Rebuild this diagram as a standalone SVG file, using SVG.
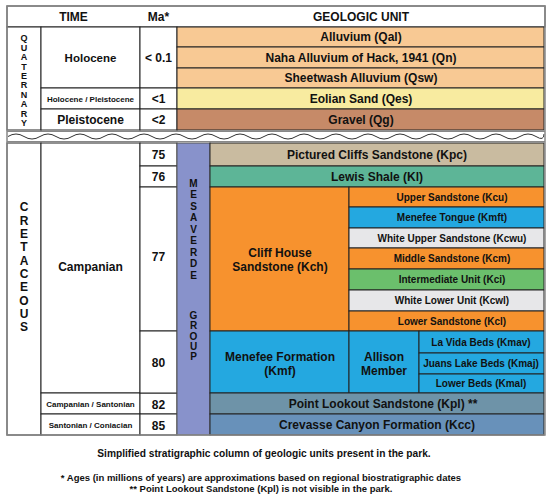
<svg xmlns="http://www.w3.org/2000/svg" width="550" height="497" viewBox="0 0 550 497">
<style>
.t{font-family:"Liberation Sans",Arial,sans-serif;font-weight:bold;fill:#111;text-anchor:middle;font-size:12px}
.s{font-size:10px}
.xs{font-size:8px}
.v{font-size:9px}
.vc{font-size:12px}
.vm{font-size:10px}
.c{stroke:#222;stroke-width:1}
.ln{stroke:#333;stroke-width:1;fill:none}
.g{stroke:#888;stroke-width:1;fill:none}
</style>
<rect width="550" height="497" fill="#fff"/>

<g id="header">
<rect x="7" y="6" width="538" height="21" fill="#fff" class="c"/>
<text class="t" x="73.5" y="21">TIME</text>
<text class="t" x="158.5" y="21">Ma*</text>
<text class="t" x="361" y="21">GEOLOGIC UNIT</text>
</g>

<g id="quaternary">
<rect x="7" y="27" width="34" height="103" fill="#fff" class="c"/>
<text class="t v" x="24"><tspan x="24" y="41.2">Q</tspan><tspan x="24" y="50.6">U</tspan><tspan x="24" y="60.1">A</tspan><tspan x="24" y="69.5">T</tspan><tspan x="24" y="79">E</tspan><tspan x="24" y="88.4">R</tspan><tspan x="24" y="97.9">N</tspan><tspan x="24" y="107.3">A</tspan><tspan x="24" y="116.8">R</tspan><tspan x="24" y="126.2">Y</tspan></text>
</g>

<g id="holocene">
<rect x="41" y="27" width="99" height="61" fill="#fff" class="c"/>
<text class="t" style="font-size:11.5px" x="90.5" y="62">Holocene</text>
<rect x="140" y="27" width="37" height="61" fill="#fff" class="c"/>
<text class="t" x="158.5" y="62">&lt; 0.1</text>
</g>
<g id="holo-pleisto">
<rect x="41" y="88" width="99" height="21" fill="#fff" class="c"/>
<text class="t xs" x="90.5" y="101.5">Holocene / Pleistocene</text>
<rect x="140" y="88" width="37" height="21" fill="#fff" class="c"/>
<text class="t" x="158.5" y="103">&lt;1</text>
</g>
<g id="pleistocene">
<rect x="41" y="109" width="99" height="21" fill="#fff" class="c"/>
<text class="t" x="90.5" y="124">Pleistocene</text>
<rect x="140" y="109" width="37" height="21" fill="#fff" class="c"/>
<text class="t" x="158.5" y="124">&lt;2</text>
</g>

<g id="qal"><rect x="177" y="27" width="367" height="20" fill="#F8C994" class="c"/><text class="t" x="361" y="41.3">Alluvium (Qal)</text></g>
<g id="qn"><rect x="177" y="47" width="367" height="21" fill="#F8C994" class="c"/><text class="t" x="361" y="61.8">Naha Alluvium of Hack, 1941 (Qn)</text></g>
<g id="qsw"><rect x="177" y="68" width="367" height="20" fill="#F8C994" class="c"/><text class="t" x="361" y="82.3">Sheetwash Alluvium (Qsw)</text></g>
<g id="qes"><rect x="177" y="88" width="367" height="21" fill="#F8EBA0" class="c"/><text class="t" x="361" y="102.8">Eolian Sand (Qes)</text></g>
<g id="qg"><rect x="177" y="109" width="367" height="21" fill="#C68A68" class="c"/><text class="t" x="361" y="123.8">Gravel (Qg)</text></g>

<g id="unconformity">
<path class="g" d="M7 131.5H545M7 141.5H545"/>
<path class="ln" stroke-width="1.3" d="M8 136.5q8 -5 16 0t16 0t16 0t16 0t16 0t16 0t16 0t16 0t16 0t16 0t16 0t16 0t16 0t16 0t16 0t16 0t16 0t16 0t16 0t16 0t16 0t16 0t16 0t16 0t16 0t16 0t16 0t16 0t16 0t16 0t16 0t16 0t16 0t8 -2.5"/>
</g>

<g id="cretaceous">
<rect x="7" y="143" width="34" height="292" fill="#fff" class="c"/>
<text class="t vc" x="24"><tspan x="24" y="211.3">C</tspan><tspan x="24" y="224.6">R</tspan><tspan x="24" y="237.9">E</tspan><tspan x="24" y="251.3">T</tspan><tspan x="24" y="264.6">A</tspan><tspan x="24" y="277.9">C</tspan><tspan x="24" y="291.3">E</tspan><tspan x="24" y="304.6">O</tspan><tspan x="24" y="317.9">U</tspan><tspan x="24" y="331.3">S</tspan></text>
</g>

<g id="campanian">
<rect x="41" y="143" width="99" height="250" fill="#fff" class="c"/>
<text class="t" x="90.5" y="270.5">Campanian</text>
</g>
<g id="campanian-santonian">
<rect x="41" y="393" width="99" height="21" fill="#fff" class="c"/>
<text class="t xs" x="90.5" y="406.5">Campanian / Santonian</text>
<rect x="140" y="393" width="37" height="21" fill="#fff" class="c"/>
<text class="t" x="158.5" y="408.5">82</text>
</g>
<g id="santonian-coniacian">
<rect x="41" y="414" width="99" height="21" fill="#fff" class="c"/>
<text class="t xs" x="90.5" y="427.5">Santonian / Coniacian</text>
<rect x="140" y="414" width="37" height="21" fill="#fff" class="c"/>
<text class="t" x="158.5" y="429.5">85</text>
</g>

<g id="ma-cret">
<rect x="140" y="143" width="37" height="23" fill="#fff" class="c"/>
<text class="t" x="158.5" y="159">75</text>
<rect x="140" y="166" width="37" height="21" fill="#fff" class="c"/>
<text class="t" x="158.5" y="181">76</text>
<rect x="140" y="187" width="37" height="144" fill="#fff" class="c"/>
<text class="t" x="158.5" y="261">77</text>
<rect x="140" y="331" width="37" height="62" fill="#fff" class="c"/>
<text class="t" x="158.5" y="367">80</text>
</g>

<g id="mesaverde">
<rect x="177" y="143" width="33" height="292" fill="#8892CB" stroke="#555" stroke-width="1"/>
<text class="t vm" x="193.5"><tspan x="193.5" y="186.6">M</tspan><tspan x="193.5" y="198.1">E</tspan><tspan x="193.5" y="209.6">S</tspan><tspan x="193.5" y="221.1">A</tspan><tspan x="193.5" y="232.6">V</tspan><tspan x="193.5" y="244.1">E</tspan><tspan x="193.5" y="255.6">R</tspan><tspan x="193.5" y="267.1">D</tspan><tspan x="193.5" y="278.6">E</tspan></text>
<text class="t vm" x="193.5"><tspan x="193.5" y="318.6">G</tspan><tspan x="193.5" y="329.1">R</tspan><tspan x="193.5" y="339.6">O</tspan><tspan x="193.5" y="349.6">U</tspan><tspan x="193.5" y="359.6">P</tspan></text>
</g>

<g id="kpc"><rect x="210" y="143" width="334" height="23" fill="#C9BBA0" class="c"/><text class="t" x="377" y="159">Pictured Cliffs Sandstone (Kpc)</text></g>
<g id="kl"><rect x="210" y="166" width="334" height="21" fill="#5DB597" class="c"/><text class="t" x="377" y="181">Lewis Shale (Kl)</text></g>

<g id="kch"><rect x="210" y="187" width="139" height="144" fill="#F7922E" class="c"/><text class="t"><tspan x="280" y="257">Cliff House</tspan><tspan x="280" y="270.5">Sandstone (Kch)</tspan></text></g>
<g id="kcu"><rect x="349" y="187" width="195" height="20" fill="#F7922E" class="c"/><text class="t s" x="452" y="200.6">Upper Sandstone (Kcu)</text></g>
<g id="kmft"><rect x="349" y="207" width="195" height="21" fill="#24A8E0" class="c"/><text class="t s" x="452" y="221.1">Menefee Tongue (Kmft)</text></g>
<g id="kcwu"><rect x="349" y="228" width="195" height="20" fill="#E7E7E9" class="c"/><text class="t s" x="452" y="241.6">White Upper Sandstone (Kcwu)</text></g>
<g id="kcm"><rect x="349" y="248" width="195" height="21" fill="#F7922E" class="c"/><text class="t s" x="452" y="262.1">Middle Sandstone (Kcm)</text></g>
<g id="kci"><rect x="349" y="269" width="195" height="21" fill="#6BBF6C" class="c"/><text class="t s" x="452" y="283.1">Intermediate Unit (Kci)</text></g>
<g id="kcwl"><rect x="349" y="290" width="195" height="21" fill="#E7E7E9" class="c"/><text class="t s" x="452" y="304.1">White Lower Unit (Kcwl)</text></g>
<g id="kcl"><rect x="349" y="311" width="195" height="20" fill="#F7922E" class="c"/><text class="t s" x="452" y="324.6">Lower Sandstone (Kcl)</text></g>

<g id="kmf"><rect x="210" y="331" width="139" height="62" fill="#24A8E0" class="c"/><text class="t"><tspan x="280" y="360.5">Menefee Formation</tspan><tspan x="280" y="374.5">(Kmf)</tspan></text></g>
<g id="allison"><rect x="349" y="331" width="70" height="62" fill="#24A8E0" class="c"/><text class="t"><tspan x="384" y="360.5">Allison</tspan><tspan x="384" y="374.5">Member</tspan></text></g>
<g id="kmav"><rect x="419" y="331" width="125" height="22" fill="#24A8E0" class="c"/><text class="t s" x="481" y="345.6">La Vida Beds (Kmav)</text></g>
<g id="kmaj"><rect x="419" y="353" width="125" height="21" fill="#24A8E0" class="c"/><text class="t s" x="481" y="367.1">Juans Lake Beds (Kmaj)</text></g>
<g id="kmal"><rect x="419" y="374" width="125" height="19" fill="#24A8E0" class="c"/><text class="t s" x="481" y="387.1">Lower Beds (Kmal)</text></g>

<g id="kpl"><rect x="210" y="393" width="334" height="21" fill="#6E93A8" class="c"/><text class="t" x="383" y="408">Point Lookout Sandstone (Kpl) **</text></g>
<g id="kcc"><rect x="210" y="414" width="334" height="21" fill="#6891BA" class="c"/><text class="t" x="377" y="429">Crevasse Canyon Formation (Kcc)</text></g>

<g id="frame">
<rect x="7" y="6" width="538" height="429" fill="none" stroke="#888" stroke-width="1.5"/>
</g>

<g id="caption">
<text class="t" style="font-size:10.2px" x="264" y="457">Simplified stratigraphic column of geologic units present in the park.</text>
<text class="t" style="font-size:9.5px" x="261" y="481">* Ages (in millions of years) are approximations based on regional biostratigraphic dates</text>
<text class="t" style="font-size:9.5px" x="261" y="492">** Point Lookout Sandstone (Kpl) is not visible in the park.</text>
</g>
</svg>
